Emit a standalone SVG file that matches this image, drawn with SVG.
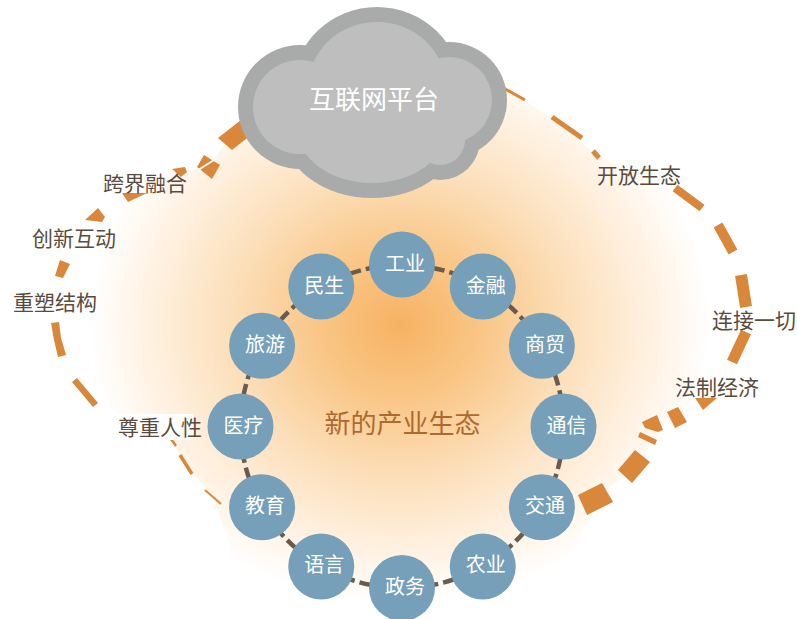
<svg xmlns="http://www.w3.org/2000/svg" width="797" height="619" viewBox="0 0 797 619">
<defs>
<radialGradient id="glow" cx="400" cy="325" r="310" gradientUnits="userSpaceOnUse" gradientTransform="translate(400 325) scale(1 0.9) translate(-400 -325)">
<stop offset="0" stop-color="#f7b263"/>
<stop offset="0.25" stop-color="#f9c584"/>
<stop offset="0.55" stop-color="#fcdfba"/>
<stop offset="0.82" stop-color="#fff2e3"/>
<stop offset="1" stop-color="#ffffff"/>
</radialGradient>
<clipPath id="ringClip">
<path d="M232,134 L250,115 L300,85 L375,72 L450,78 L515,94 L566,128 L596,155 L650,180 L688,198 L725,238 L745,291 L740,348 L706,404 L665,425 L634,467 L596,499 L570,560 L400,640 L235,560 L213,497 L186,465 L173,442 L120,415 L85,392 L58,340 L62,269 L96,215 L135,197 L180,172 L208,168 Z"/>
</clipPath>
<style>
.dash{fill:#d9873a}
.thin{fill:none;stroke:#d9873a;stroke-linecap:butt}
.node circle{fill:#76a0b9}
.node text{fill:#ffffff;font-family:"Noto Sans CJK SC",sans-serif;font-size:20px;text-anchor:middle}
.lbl{fill:#5b4b3f;font-family:"Noto Sans CJK SC",sans-serif;font-size:21px}
.conn{fill:none;stroke:#6b5b4e;stroke-width:4.5;stroke-dasharray:12 5}
.cl-out{fill:#a9abaa}
.cl-in{fill:#bebebe}
</style>
</defs>
<rect width="797" height="619" fill="#ffffff"/>
<g id="glow-bg" clip-path="url(#ringClip)">
<rect x="0" y="0" width="797" height="619" fill="url(#glow)"/>
</g>
<g id="ring">
<polygon class="dash" points="218,138 246,116 256,131 232,150"/>
<polygon class="dash" points="204,155 220,165 212,179 197,167"/>
<line x1="230" y1="150" x2="187" y2="177" stroke="#f5f7f8" stroke-width="2"/>
<polygon class="dash" points="172,169 185,167 187,172 181,177"/>
<polygon class="dash" points="122,193 147,193 128,202"/>
<polygon class="dash" points="85,220 98,208 105,217 102,222"/>
<polygon class="dash" points="60,260 70,264 63,278 55,276"/>
<polygon class="dash" points="51,323 59,322 61,338 66,355 58,357 54,340"/>
<polygon class="dash" points="72,382 77,378 98,403 93,407"/>
<line class="thin" x1="171" y1="439" x2="176" y2="446" stroke-width="2.5"/>
<line class="thin" x1="180" y1="455" x2="192" y2="474" stroke-width="3.5"/>
<line class="thin" x1="205" y1="490" x2="221" y2="504" stroke-width="2"/>
<line class="thin" x1="498" y1="85" x2="525" y2="100" stroke-width="3"/>
<line class="thin" x1="552" y1="117" x2="582" y2="138" stroke-width="5"/>
<line class="thin" x1="593" y1="151" x2="599" y2="158" stroke-width="5"/>
<line class="thin" x1="675" y1="188" x2="702" y2="208" stroke-width="8"/>
<line class="thin" x1="718" y1="225" x2="733" y2="252" stroke-width="10"/>
<line class="thin" x1="741" y1="275" x2="746" y2="307" stroke-width="12"/>
<line class="thin" x1="746" y1="332" x2="732" y2="362" stroke-width="11"/>
<polygon class="dash" points="695,398 717,398 703,410"/>
<polygon class="dash" points="667,412 678,407 687,422 675,428"/>
<polygon class="dash" points="642,422 657,415 663,430 658,432 645,428"/>
<polygon class="dash" points="638,437 640,432 657,440 655,445"/>
<polygon class="dash" points="618,470 635,450 650,462 632,483"/>
<polygon class="dash" points="578,495 602,483 613,502 587,515"/>
</g>
<g id="cloud">
<ellipse class="cl-out" cx="377" cy="88" rx="84" ry="81"/>
<circle class="cl-out" cx="300" cy="107" r="62"/>
<circle class="cl-out" cx="449" cy="100" r="58"/>
<ellipse class="cl-out" cx="372" cy="128" rx="90" ry="70"/>
<circle class="cl-out" cx="440" cy="140" r="40"/>
<ellipse class="cl-in" cx="377" cy="88" rx="69" ry="66"/>
<circle class="cl-in" cx="300" cy="107" r="47"/>
<circle class="cl-in" cx="449" cy="100" r="43"/>
<ellipse class="cl-in" cx="372" cy="128" rx="75" ry="55"/>
<circle class="cl-in" cx="440" cy="140" r="25"/>
<text x="374" y="109" fill="#ffffff" font-family="Noto Sans CJK SC, sans-serif" font-size="26" text-anchor="middle">互联网平台</text>
</g>
<g id="labels">
<text class="lbl" x="103" y="191">跨界融合</text>
<text class="lbl" x="597" y="183">开放生态</text>
<text class="lbl" x="32" y="246">创新互动</text>
<text class="lbl" x="13" y="310">重塑结构</text>
<text class="lbl" x="712" y="328">连接一切</text>
<rect x="116" y="414" width="77" height="26" fill="#ffffff"/>
<text class="lbl" x="118" y="435">尊重人性</text>
<text class="lbl" x="675" y="395">法制经济</text>
</g>
<g id="center-label">
<text x="402.5" y="433" fill="#ad6a30" font-family="Noto Sans CJK SC, sans-serif" font-size="26" text-anchor="middle">新的产业生态</text>
</g>
<g id="connectors">
<path class="conn" d="M432.81,267.97 A161.5,161.5 0 0 1 454.58,273.80"/>
<path class="conn" d="M507.96,304.62 A161.5,161.5 0 0 1 523.88,320.54"/>
<path class="conn" d="M554.70,373.92 A161.5,161.5 0 0 1 560.53,395.69"/>
<path class="conn" d="M560.53,457.31 A161.5,161.5 0 0 1 554.70,479.08"/>
<path class="conn" d="M523.88,532.46 A161.5,161.5 0 0 1 507.96,548.38"/>
<path class="conn" d="M454.58,579.20 A161.5,161.5 0 0 1 432.81,585.03"/>
<path class="conn" d="M371.19,585.03 A161.5,161.5 0 0 1 349.42,579.20"/>
<path class="conn" d="M296.04,548.38 A161.5,161.5 0 0 1 280.12,532.46"/>
<path class="conn" d="M249.30,479.08 A161.5,161.5 0 0 1 243.47,457.31"/>
<path class="conn" d="M243.47,395.69 A161.5,161.5 0 0 1 249.30,373.92"/>
<path class="conn" d="M280.12,320.54 A161.5,161.5 0 0 1 296.04,304.62"/>
<path class="conn" d="M349.42,273.80 A161.5,161.5 0 0 1 371.19,267.97"/>
</g>
<g id="n-gongye" class="node"><circle cx="402" cy="264.6" r="33"/><text x="405" y="270.6">工业</text></g>
<g id="n-jinrong" class="node"><circle cx="482.75" cy="286.6" r="33"/><text x="485.75" y="292.6">金融</text></g>
<g id="n-shangmao" class="node"><circle cx="541.9" cy="345.75" r="33"/><text x="544.9" y="351.75">商贸</text></g>
<g id="n-tongxin" class="node"><circle cx="563.5" cy="426.5" r="33"/><text x="566.5" y="432.5">通信</text></g>
<g id="n-jiaotong" class="node"><circle cx="541.9" cy="507.25" r="33"/><text x="544.9" y="513.25">交通</text></g>
<g id="n-nongye" class="node"><circle cx="482.75" cy="566.4" r="33"/><text x="485.75" y="572.4">农业</text></g>
<g id="n-zhengwu" class="node"><circle cx="402" cy="588" r="33"/><text x="405" y="594">政务</text></g>
<g id="n-yuyan" class="node"><circle cx="321.25" cy="566.4" r="33"/><text x="324.25" y="572.4">语言</text></g>
<g id="n-jiaoyu" class="node"><circle cx="262.1" cy="507.25" r="33"/><text x="265.1" y="513.25">教育</text></g>
<g id="n-yiliao" class="node"><circle cx="240.5" cy="426.5" r="33"/><text x="243.5" y="432.5">医疗</text></g>
<g id="n-lvyou" class="node"><circle cx="262.1" cy="345.75" r="33"/><text x="265.1" y="351.75">旅游</text></g>
<g id="n-minsheng" class="node"><circle cx="321.25" cy="286.6" r="33"/><text x="324.25" y="292.6">民生</text></g>
</svg>
